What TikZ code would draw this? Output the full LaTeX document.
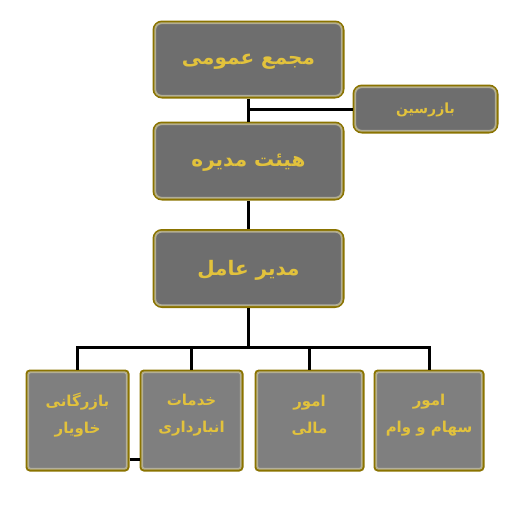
\documentclass[tikz,border=0pt]{standalone}
\usepackage{fontspec}
\newfontfamily\arabicfont[Script=Arabic]{DejaVu Sans}
\TeXXeTstate=1
\definecolor{boxfill}{HTML}{6E6E6E}
\definecolor{boxfilltwo}{HTML}{7F7F7F}
\definecolor{boxedge}{HTML}{8A7300}
\definecolor{glowc}{HTML}{C4C2B4}
\definecolor{txtc}{HTML}{E2C23C}
\tikzset{
  bigbox/.style={draw=boxedge, line width=3pt, fill=boxfill, rounded corners=8pt, inner sep=0pt},
  smallbox/.style={draw=boxedge, line width=3pt, fill=boxfilltwo, rounded corners=3pt, inner sep=0pt},
  glow/.style={draw=glowc, line width=1.8pt, opacity=0.75},
  lbl/.style={text=txtc, font=\arabicfont\bfseries, align=center, inner sep=0pt},
  bigtxt/.style={lbl, font=\arabicfont\bfseries\fontsize{20}{24}\selectfont},
  subtxt/.style={lbl, font=\arabicfont\bfseries\fontsize{15}{27}\selectfont},
  conn/.style={draw=black, line width=3pt},
}
\begin{document}
\begin{tikzpicture}[x=1pt,y=-1pt]
\useasboundingbox (0,0) rectangle (512,509);
\coordinate (bus) at (0,347);
% boxes
\node[bigbox, minimum width=189pt, minimum height=75pt] (gm) at (248.5,59.5) {};
\node[bigbox, minimum width=143pt, minimum height=46pt] (bz) at (425.5,109) {};
\node[bigbox, minimum width=189pt, minimum height=76pt] (hm) at (248.5,161) {};
\node[bigbox, minimum width=189pt, minimum height=76pt] (ma) at (248.5,268.5) {};
\node[smallbox, minimum width=101pt, minimum height=99pt] (c1) at (77.5,420.5) {};
\node[smallbox, minimum width=101pt, minimum height=99pt] (c2) at (191.5,420.5) {};
\node[smallbox, minimum width=107pt, minimum height=99pt] (c3) at (309.5,420.5) {};
\node[smallbox, minimum width=108pt, minimum height=99pt] (c4) at (429,420.5) {};
% glows
\foreach \n/\r in {gm/6pt,bz/6pt,hm/6pt,ma/6pt,c1/2pt,c2/2pt,c3/2pt,c4/2pt}{
  \draw[glow, rounded corners=\r] ([shift={(2.8pt,-2.8pt)}]\n.north west) rectangle ([shift={(-2.8pt,2.8pt)}]\n.south east);
}
% connectors
\draw[conn] (gm.south) -- (hm.north);
\draw[conn] (gm.south |- bz.west) -- (bz.west);
\draw[conn] (hm.south) -- (ma.north);
\draw[conn] (ma.south) -- (ma.south |- bus);
\draw[conn] (c1.north) -- (c1.north |- bus) -- (c4.north |- bus) -- (c4.north);
\draw[conn] (c2.north) -- (c2.north |- bus);
\draw[conn] (c3.north) -- (c3.north |- bus);
\draw[conn] ([yshift=12pt]c1.south east) -- ([yshift=12pt]c2.south west);
% labels
\node[bigtxt] (tgm) at (248.5,62) {\beginR مجمع عمومی\endR};
\node[lbl, font=\arabicfont\bfseries\fontsize{14}{16}\selectfont] (tbz) at (425.5,110) {\beginR بازرسین\endR};
\node[bigtxt] (thm) at (248.5,163) {\beginR هیئت مدیره\endR};
\node[bigtxt] (tma) at (248.5,270) {\beginR مدیر عامل\endR};
\node[subtxt] (t1) at (77.5,415) {\beginR بازرگانی\endR\\\beginR خاویار\endR};
\node[subtxt] (t2) at (191.5,415) {\beginR خدمات\endR\\\beginR انبارداری\endR};
\node[subtxt] (t3) at (309.5,415) {\beginR امور\endR\\\beginR مالی\endR};
\node[subtxt] (t4) at (429,415) {\beginR امور\endR\\\beginR سهام و وام\endR};
\end{tikzpicture}
\end{document}
